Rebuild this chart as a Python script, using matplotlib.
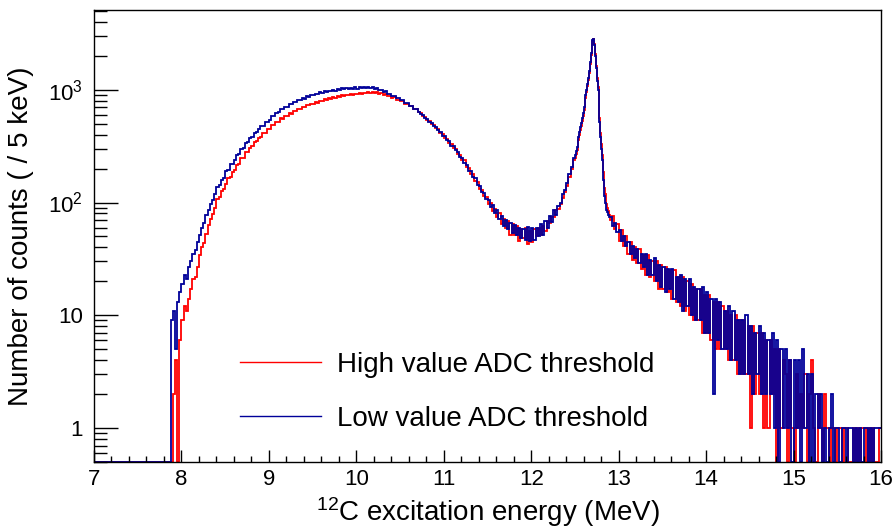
# Import libraries
import numpy as np
import matplotlib
matplotlib.use("Agg")
import matplotlib.pyplot as plt
from matplotlib.lines import Line2D

# Step 1: Data (counts per 5 keV)

# bin edges: one empty bin 7.0-7.8, 25 keV bins, 10 keV bins around the 12.7 MeV peak
energy_edges = np.r_[7.0,
                     np.arange(7.8, 12.5 - 1e-9, 0.025),
                     np.arange(12.5, 12.9 - 1e-9, 0.01),
                     np.arange(12.9, 16.0 + 1e-9, 0.025)]

# Low value ADC threshold (blue)
low_thr = [0,
    0, 0, 0, 9,            # 7.8
    11, 5, 13, 16,         # 7.9
    19, 23, 21, 27,        # 8.0
    30, 35, 38, 45,        # 8.1
    52, 60, 66, 78,        # 8.2
    86, 98, 106, 120,      # 8.3
    136, 142, 160, 165,    # 8.4
    190, 193, 218, 220,    # 8.5
    240, 265, 270, 300,    # 8.6
    305, 340, 342, 372,    # 8.7
    380, 412, 420, 452,    # 8.8
    475, 482, 515, 522,    # 8.9
    545, 585, 590, 626,    # 9.0
    632, 670, 674, 710,    # 9.1
    710, 745, 742, 778,    # 9.2
    776, 810, 808, 842,    # 9.3
    836, 872, 866, 898,    # 9.4
    890, 926, 912, 948,    # 9.5
    930, 968, 950, 985,    # 9.6
    968, 998, 985, 1015,   # 9.7
    995, 1028, 1008, 1035,   # 9.8
    1012, 1044, 1018, 1050,  # 9.9
    1025, 1050, 1032, 1055,  # 10.0
    1035, 1058, 1038, 1060,  # 10.1
    1024, 1036, 994, 1002,   # 10.2
    963, 968, 925, 922,    # 10.3
    885, 886, 842, 842,    # 10.4
    805, 806, 762, 760,    # 10.5
    720, 716, 675, 670,    # 10.6
    640, 610, 596, 566,    # 10.7
    552, 520, 506, 476,    # 10.8
    465, 436, 422, 393,    # 10.9
    388, 356, 350, 318,    # 11.0
    316, 290, 281, 252,    # 11.1
    250, 225, 217, 192,    # 11.2
    190, 167, 165, 143,    # 11.3
    140, 125, 121, 108,    # 11.4
    106, 92, 95, 80,       # 11.5
    86, 72, 76, 62,        # 11.6
    70, 58, 66, 54,        # 11.7
    63, 52, 60, 48,        # 11.8
    58, 47, 61, 46,        # 11.9
    60, 47, 59, 50,        # 12.0
    64, 52, 68, 60,        # 12.1
    76, 67, 86, 78,        # 12.2
    94, 100, 120, 130,     # 12.3
    148, 180, 206, 248,    # 12.4
    # 12.5 - 12.9 in 10 keV steps
    265, 285, 310, 345, 380, 420, 465, 510, 560, 620,
    700, 790, 890, 1000, 1120, 1280, 1480, 1750, 2100, 2450,
    2750, 2800, 2500, 2000, 1550, 1200, 1000, 750, 520, 380,
    300, 240, 160, 115, 100, 92, 86, 82, 78, 74,
    74, 62, 66, 55,        # 12.9
    57, 46, 51, 41,        # 13.0
    45, 35, 41, 32,        # 13.1
    39, 29, 35, 27,        # 13.2
    35, 23, 31, 23,        # 13.3
    32, 20, 28, 18,        # 13.4
    27, 16, 26, 17,        # 13.5
    26, 14, 22, 13,        # 13.6
    23, 11, 21, 12,        # 13.7
    21, 10, 18, 9,         # 13.8
    17, 9, 18, 7,          # 13.9
    16, 7, 14, 2,          # 14.0
    14, 6, 13, 5,          # 14.1
    11, 5, 12, 4,          # 14.2
    11, 4, 9, 3,           # 14.3
    9, 3, 10, 3,           # 14.4
    8, 2, 7, 3,            # 14.5
    8, 2, 7, 2,            # 14.6
    6, 2, 7, 1,            # 14.7
    6, 0, 5, 1,            # 14.8
    5, 1, 4, 0,            # 14.9
    4, 1, 4, 0,            # 15.0
    5, 1, 3, 0,            # 15.1
    3, 0, 2, 1,            # 15.2
    2, 0, 1, 0,            # 15.3
    1, 2, 0, 1,            # 15.4
    1, 0, 1, 1,            # 15.5
    0, 1, 1, 0,            # 15.6
    1, 0, 1, 0,            # 15.7
    1, 1, 0, 1,            # 15.8
    0, 1, 1, 1]            # 15.9

# High value ADC threshold (red)
high_thr = [0,
    0, 0, 0, 0,            # 7.8
    2, 4, 0, 6,            # 7.9
    9, 12, 11, 14,         # 8.0
    17, 21, 22, 27,        # 8.1
    34, 40, 44, 53,        # 8.2
    63, 72, 79, 90,        # 8.3
    108, 112, 127, 131,    # 8.4
    146, 164, 167, 188,    # 8.5
    195, 217, 221, 246,    # 8.6
    250, 278, 279, 306,    # 8.7
    316, 342, 349, 376,    # 8.8
    381, 414, 412, 447,    # 8.9
    450, 488, 487, 521,    # 9.0
    523, 557, 556, 591,    # 9.1
    588, 620, 615, 648,    # 9.2
    644, 673, 670, 700,    # 9.3
    702, 732, 726, 754,    # 9.4
    750, 784, 770, 801,    # 9.5
    790, 824, 806, 838,    # 9.6
    831, 859, 846, 874,    # 9.7
    864, 896, 876, 902,    # 9.8
    892, 919, 895, 925,    # 9.9
    913, 934, 918, 940,    # 10.0
    930, 952, 934, 954,    # 10.1
    942, 958, 923, 939,    # 10.2
    906, 914, 876, 880,    # 10.3
    849, 856, 815, 818,    # 10.4
    790, 790, 750, 748,    # 10.5
    715, 722, 670, 676,    # 10.6
    630, 620, 585, 575,    # 10.7
    544, 530, 498, 485,    # 10.8
    455, 445, 412, 404,    # 10.9
    376, 368, 340, 332,    # 11.0
    304, 300, 270, 264,    # 11.1
    240, 236, 207, 204,    # 11.2
    180, 178, 154, 153,    # 11.3
    133, 130, 114, 112,    # 11.4
    98, 100, 84, 88,       # 11.5
    74, 80, 64, 72,        # 11.6
    60, 68, 52, 64,        # 11.7
    52, 62, 46, 58,        # 11.8
    48, 60, 43, 56,        # 11.9
    45, 58, 50, 60,        # 12.0
    52, 62, 56, 68,        # 12.1
    66, 74, 74, 86,        # 12.2
    88, 98, 110, 124,      # 12.3
    140, 168, 198, 236,    # 12.4
    # 12.5 - 12.9 in 10 keV steps
    250, 268, 292, 322, 356, 395, 438, 482, 530, 590,
    665, 750, 845, 950, 1070, 1220, 1410, 1680, 2020, 2400,
    2720, 2800, 2560, 2080, 1640, 1280, 1060, 800, 560, 410,
    330, 265, 185, 135, 118, 108, 98, 90, 84, 78,
    70, 76, 58, 64,        # 12.9
    46, 57, 41, 50,        # 13.0
    35, 45, 31, 40,        # 13.1
    29, 39, 26, 34,        # 13.2
    23, 34, 22, 30,        # 13.3
    20, 30, 17, 28,        # 13.4
    17, 27, 16, 25,        # 13.5
    14, 25, 13, 22,        # 13.6
    12, 22, 11, 20,        # 13.7
    10, 19, 9, 17,         # 13.8
    9, 17, 7, 15,          # 13.9
    7, 15, 6, 13,          # 14.0
    5, 13, 5, 12,          # 14.1
    5, 11, 4, 10,          # 14.2
    4, 10, 3, 9,           # 14.3
    3, 9, 3, 8,            # 14.4
    1, 8, 2, 7,            # 14.5
    2, 7, 1, 6,            # 14.6
    1, 6, 2, 5,            # 14.7
    0, 5, 1, 4,            # 14.8
    3, 0, 4, 1,            # 14.9
    0, 3, 1, 2,            # 15.0
    1, 3, 0, 2,            # 15.1
    4, 1, 0, 2,            # 15.2
    1, 0, 2, 1,            # 15.3
    0, 1, 1, 0,            # 15.4
    1, 1, 0, 1,            # 15.5
    1, 0, 0, 1,            # 15.6
    0, 1, 0, 1,            # 15.7
    1, 0, 1, 0,            # 15.8
    1, 0, 0, 1]            # 15.9

series_labels = ["High value ADC threshold", "Low value ADC threshold"]
y_ticks = [1, 10, 100, 1000]
y_tick_labels = ["1", "10", "$10^{2}$", "$10^{3}$"]

print("edges:", len(energy_edges), "bins:", len(low_thr), len(high_thr))

# Step 2: Style (ROOT-like)
plt.rcParams["font.family"] = ["Liberation Sans", "DejaVu Sans"]
plt.rcParams["mathtext.fontset"] = "custom"
plt.rcParams["mathtext.rm"] = "Liberation Sans"
plt.rcParams["mathtext.it"] = "Liberation Sans:italic"

red = "#ff0000"
blue = "#000099"
y_min, y_max = 0.5, 5100

fig = plt.figure(figsize=(8.95, 5.29), dpi=100)
ax = fig.add_axes([94 / 895, 1 - 462 / 529, 787 / 895, 452 / 529])

# empty bins are drawn on the lower frame, as ROOT does on a log axis
high = np.maximum(np.array(high_thr, dtype=float), y_min)
low = np.maximum(np.array(low_thr, dtype=float), y_min)

ax.stairs(high, energy_edges, color=red, lw=1.3, baseline=None)
ax.stairs(low, energy_edges, color=blue, lw=1.3, baseline=None)

ax.set_yscale("log")
ax.set_xlim(7, 16)
ax.set_ylim(y_min, y_max)

# ticks
ax.set_xticks(np.arange(7, 17, 1))
ax.set_xticks(np.arange(7, 16.01, 0.2), minor=True)
ax.set_yticks(y_ticks)
ax.set_yticklabels(y_tick_labels)
ax.yaxis.set_minor_locator(matplotlib.ticker.LogLocator(base=10, subs=np.arange(2, 10)))
ax.yaxis.set_minor_formatter(matplotlib.ticker.NullFormatter())
ax.tick_params(axis="x", which="major", direction="in", length=8.6, width=1,
               labelsize=16, pad=5, top=False)
ax.tick_params(axis="x", which="minor", direction="in", length=4.3, width=1, top=False)
ax.tick_params(axis="y", which="major", direction="in", length=17.5, width=1,
               labelsize=16, pad=8, right=False)
ax.tick_params(axis="y", which="minor", direction="in", length=9, width=1, right=False)
for s in ax.spines.values():
    s.set_linewidth(1.0)

ax.set_xlabel(r"$^{12}$C excitation energy (MeV)", fontsize=20, labelpad=4)
ax.set_ylabel("Number of counts ( / 5 keV)", fontsize=20, labelpad=10)

# legend
handles = [Line2D([], [], color=red, lw=1), Line2D([], [], color=blue, lw=1)]
ax.legend(handles, series_labels, loc="upper left", frameon=False, fontsize=20,
          bbox_to_anchor=(240 / 895, 1 - 352 / 529), bbox_transform=fig.transFigure,
          borderpad=0, borderaxespad=0, handlelength=2.9, handletextpad=0.6,
          labelspacing=1.0)

# Save chart
plt.savefig("out.png", dpi=100)
